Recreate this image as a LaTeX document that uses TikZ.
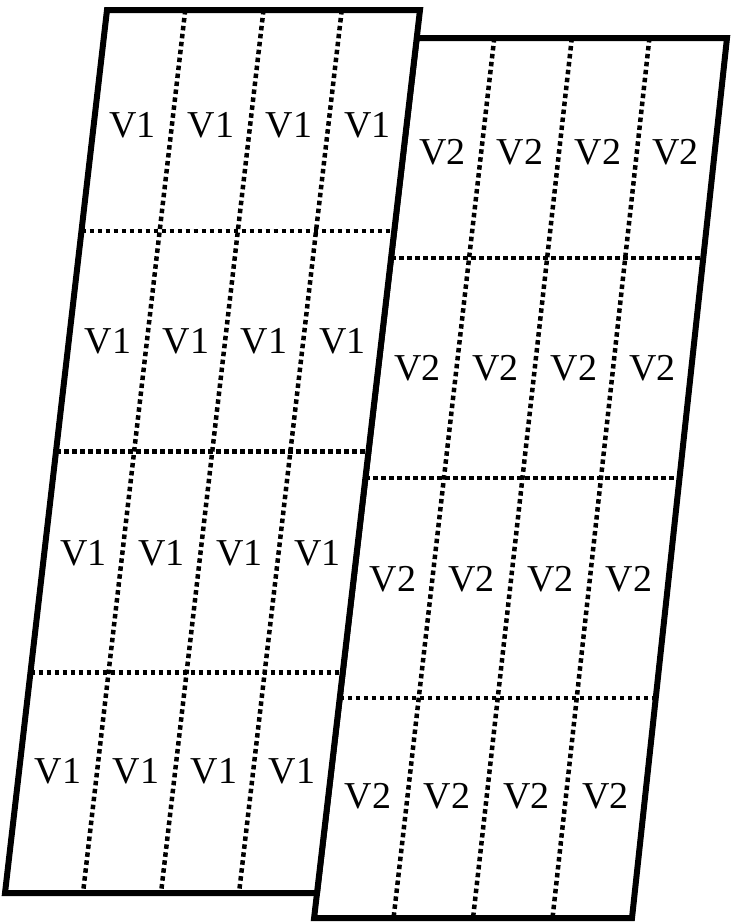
\documentclass[tikz,border=0pt]{standalone}
\usepackage{fontspec}
\setmainfont{Liberation Serif}
\usetikzlibrary{calc}
\tikzset{
  panel/.style   ={draw, line width=6pt, line join=miter},
  gridline/.style={line width=4.5pt, dash pattern=on 4.5pt off 3.5pt},
  cell/.style    ={font=\fontsize{38}{38}\selectfont, inner sep=0pt},
}

\begin{document}
\begin{tikzpicture}[x=1pt,y=-1pt]
  \useasboundingbox (0,0) rectangle (732,922);

  % right panel (V2), lies behind
  \coordinate (rtl) at (416.7,38);
  \coordinate (rtr) at (727,38);
  \coordinate (rbr) at (632,918);
  \coordinate (rbl) at (314.1,918);
  \fill[white] (rtl) -- (rtr) -- (rbr) -- (rbl) -- cycle;
  \foreach \t in {0.25,0.5,0.75} {
    \draw[gridline] ($(rtl)!\t!(rbl)$) -- ($(rtr)!\t!(rbr)$);
    \draw[gridline] ($(rtl)!\t!(rtr)$) -- ($(rbl)!\t!(rbr)$);
  }
  \draw[panel] (rtl) -- (rtr) -- (rbr) -- (rbl) -- cycle;
  \foreach \v [count=\i] in {0.13,0.375,0.615,0.862}
    \foreach \u [count=\j] in {0.125,0.375,0.625,0.875}
      \node[cell] (v2-\i-\j) at ($($(rtl)!\v!(rbl)$)!\u!($(rtr)!\v!(rbr)$)$) {V2};

  % left panel (V1), on top
  \coordinate (ltl) at (107,10);
  \coordinate (ltr) at (420,10);
  \coordinate (lbr) at (317,893);
  \coordinate (lbl) at (5,893);
  \fill[white] (ltl) -- (ltr) -- (lbr) -- (lbl) -- cycle;
  \foreach \t in {0.25,0.5,0.75} {
    \draw[gridline] ($(ltl)!\t!(lbl)$) -- ($(ltr)!\t!(lbr)$);
    \draw[gridline] ($(ltl)!\t!(ltr)$) -- ($(lbl)!\t!(lbr)$);
  }
  \draw[panel] (ltl) -- (ltr) -- (lbr) -- (lbl) -- cycle;
  \foreach \v [count=\i] in {0.131,0.375,0.615,0.862}
    \foreach \u [count=\j] in {0.125,0.375,0.625,0.875}
      \node[cell] (v1-\i-\j) at ($($(ltl)!\v!(lbl)$)!\u!($(ltr)!\v!(lbr)$)$) {V1};
\end{tikzpicture}
\end{document}
